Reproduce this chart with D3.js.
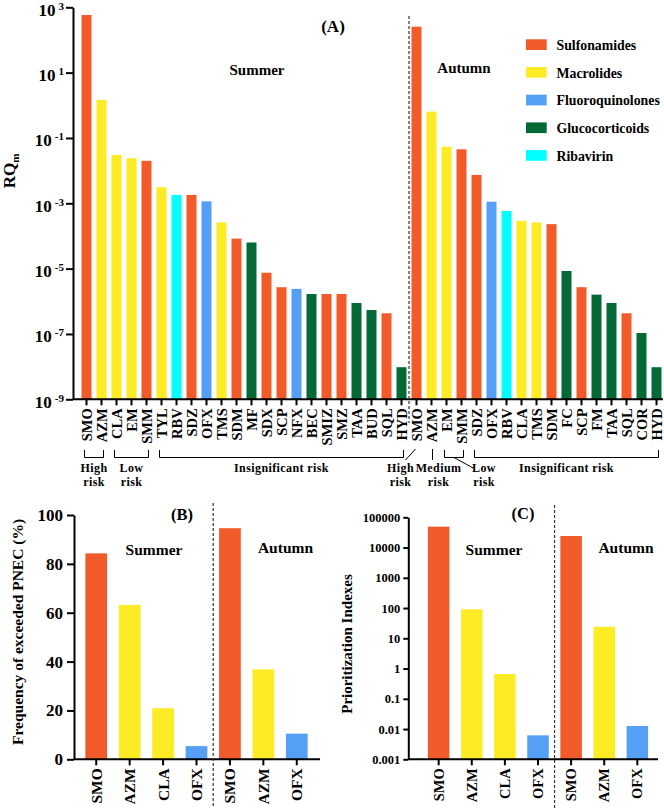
<!DOCTYPE html>
<meta charset="utf-8">
<style>
body { margin: 0; background: #fff; }
svg { display: block; }
text { font-family: "Liberation Serif", "Times New Roman", serif; font-weight: bold; fill: #000; }
.axis path, .axis line { stroke: #000; stroke-width: 2px; }
.sep { stroke: #333; stroke-width: 1.2px; stroke-dasharray: 3,2; }
.brk { stroke: #000; stroke-width: 1px; fill: none; }
</style>
<svg width="664" height="808"></svg>
<script src="https://cdn.jsdelivr.net/npm/d3@7"></script>
<script>

var classNames = ["Sulfonamides", "Macrolides", "Fluoroquinolones", "Glucocorticoids", "Ribavirin"];
var classColors = ["#f15a29", "#fdec25", "#559ff7", "#036a36", "#00ffff"];

// panel A, RQm per compound
var summerDrugs = ["SMO","AZM","CLA","EM","SMM","TYL","RBV","SDZ","OFX","TMS","SDM","MF","SDX","SCP","NFX","BEC","SMIZ","SMZ","TAA","BUD","SQL","HYD"];
var summerClass = [0,1,1,1,0,1,4,0,2,1,0,3,0,0,2,3,0,0,3,3,0,3];
var summerRQ = [580,1.46,0.030,0.024,0.020,0.0031,0.0018,0.0018,0.00115,0.00026,8.3e-5,6.3e-5,7.5e-6,2.7e-6,2.4e-6,1.67e-6,1.67e-6,1.67e-6,8.9e-7,5.4e-7,4.3e-7,9.6e-9];

var autumnDrugs = ["SMO","AZM","EM","SMM","SDZ","OFX","RBV","CLA","TMS","SDM","FC","SCP","FM","TAA","SQL","COR","HYD"];
var autumnClass = [0,1,1,0,0,2,4,1,1,0,3,0,3,3,0,3,3];
var autumnRQ = [255,0.64,0.054,0.045,0.0074,0.00112,0.00058,0.00029,0.00026,0.00023,8.5e-6,2.7e-6,1.6e-6,8.9e-7,4.3e-7,1.07e-7,9.6e-9];

var rqTicks = [1e3,1e1,1e-1,1e-3,1e-5,1e-7,1e-9];

// risk brackets: [first index, last index] within the season
var summerRisk = [{from:0, to:1, lines:["High","risk"]}, {from:2, to:4, lines:["Low","risk"]}, {from:5, to:21, lines:["Insignificant risk"]}];
var autumnRisk = [{from:2, to:3, lines:["Low","risk"]}, {from:4, to:16, lines:["Insignificant risk"]}];

// panels B and C
var bDrugs = ["SMO","AZM","CLA","OFX","SMO","AZM","OFX"];
var bClass = [0,1,1,2,0,1,2];
var bFreq = [84.3,63.2,20.9,5.4,94.6,36.8,10.5];
var cIndex = [49000,91,0.66,0.0062,24000,24,0.0126];
var freqTicks = [0,20,40,60,80,100];
var piTicks = [0.001,0.01,0.1,1,10,100,1000,10000,100000];

var svg = d3.select("svg");

// ---------- panel A ----------
var drugsA = summerDrugs.concat(autumnDrugs),
    classA = summerClass.concat(autumnClass),
    rqA = summerRQ.concat(autumnRQ),
    nS = summerDrugs.length;

var xA = d3.scaleBand().domain(d3.range(drugsA.length)).range([79, 664]).paddingInner(1/3).paddingOuter(1/6);
var yA = d3.scaleLog().domain([1e-9, 1e3]).range([399.3, 7.3]);
var bwA = xA.bandwidth();

svg.append("g").selectAll("rect")
  .data(rqA)
  .enter().append("rect")
    .attr("x", function(d, i) { return xA(i); })
    .attr("y", function(d) { return yA(d); })
    .attr("width", bwA)
    .attr("height", function(d) { return yA.range()[0] - yA(d); })
    .style("fill", function(d, i) { return classColors[classA[i]]; });

var axA = svg.append("g").attr("class", "axis")
    .attr("transform", "translate(0,399.3)")
    .call(d3.axisBottom(xA).tickSize(6).tickSizeOuter(0).tickFormat(function(i) { return drugsA[i]; }));
axA.select(".domain").remove();
axA.append("line").attr("x1", 73).attr("x2", 663);
axA.selectAll("text")
    .attr("transform", "rotate(-90)")
    .attr("x", -9).attr("y", 0).attr("dy", "0.35em")
    .style("text-anchor", "end")
    .style("font-size", "14.5px");

var ayA = svg.append("g").attr("class", "axis")
    .attr("transform", "translate(73,0)")
    .call(d3.axisLeft(yA).tickValues(rqTicks).tickSize(7).tickSizeOuter(0).tickFormat(""));
ayA.selectAll(".tick text").remove();
ayA.selectAll(".tick").each(function(d) {
  var t = d3.select(this).append("text")
      .attr("x", -9).attr("y", 2).attr("dy", "0.35em")
      .style("text-anchor", "end").style("font-size", "17px");
  t.append("tspan").text("10");
  t.append("tspan").attr("dx", 3).attr("dy", "-0.55em").style("font-size", "11px")
      .text(Math.round(Math.log10(d)));
});

svg.append("text")
    .attr("transform", "translate(15,171) rotate(-90)")
    .style("text-anchor", "middle").style("font-size", "17px")
  .call(function(t) {
    t.append("tspan").text("RQ");
    t.append("tspan").attr("dy", 4).style("font-size", "11px").text("m");
  });

var sepA = (xA(nS - 1) + bwA + xA(nS)) / 2;
svg.append("line").attr("class", "sep").attr("x1", sepA).attr("x2", sepA).attr("y1", 16).attr("y2", 423);

svg.append("text").attr("x", 333).attr("y", 32).style("text-anchor", "middle").style("font-size", "17px").text("(A)");
svg.append("text").attr("x", 257).attr("y", 75).style("text-anchor", "middle").style("font-size", "15px").text("Summer");
svg.append("text").attr("x", 464).attr("y", 73).style("text-anchor", "middle").style("font-size", "15px").text("Autumn");

// legend
var leg = svg.append("g").selectAll("g")
  .data(classNames)
  .enter().append("g")
    .attr("transform", function(d, i) { return "translate(526," + (39.3 + i * 27.7) + ")"; });
leg.append("rect").attr("width", 20.7).attr("height", 10.7)
    .style("fill", function(d, i) { return classColors[i]; });
leg.append("text").attr("x", 30.5).attr("y", 10.5).style("font-size", "13.8px").text(function(d) { return d; });

// risk brackets under the labels
function bracket(g, x1, x2, y0, y1) {
  g.append("path").attr("class", "brk")
    .attr("d", "M" + x1 + "," + y0 + "V" + y1 + "H" + x2 + "V" + y0);
}
function riskLabel(cx, lines) {
  lines.forEach(function(s, k) {
    svg.append("text").attr("x", cx).attr("y", 471.5 + k * 14)
        .style("text-anchor", "middle").style("font-size", "12px").style("letter-spacing", "0.4px")
        .text(s);
  });
}
var gB = svg.append("g");
summerRisk.concat(autumnRisk.map(function(r) { return {from: r.from + nS, to: r.to + nS, lines: r.lines}; }))
  .forEach(function(r, k) {
    var x1 = xA(r.from) + 3, x2 = xA(r.to) + bwA - 3;
    bracket(gB, x1, x2, 450, 457.5);
    if (r.lines[0] === "Low" && r.from >= nS) {
      var mx = (x1 + x2) / 2;
      gB.append("path").attr("class", "brk").attr("d", "M" + mx + ",457.5L" + (mx + 21) + ",469");
      riskLabel(mx + 30, r.lines);
    } else {
      riskLabel((x1 + x2) / 2, r.lines);
    }
  });
// autumn SMO (high) and AZM (medium) leaders
var cSmo = xA(nS) + bwA / 2, cAzm = xA(nS + 1) + bwA / 2;
gB.append("path").attr("class", "brk").attr("d", "M" + (cSmo - 11) + ",460L" + (cSmo - 1) + ",449");
riskLabel(cSmo - 16, ["High", "risk"]);
gB.append("path").attr("class", "brk").attr("d", "M" + (cAzm + 1) + ",449V460");
riskLabel(cAzm + 7, ["Medium", "risk"]);

// ---------- panel B ----------
var xB = d3.scaleBand().domain(d3.range(bDrugs.length)).range([73, 320]).paddingInner(0.35).paddingOuter(0.37);
var yB = d3.scaleLinear().domain([0, 100]).range([759.3, 515]);

svg.append("g").selectAll("rect")
  .data(bFreq)
  .enter().append("rect")
    .attr("x", function(d, i) { return xB(i); })
    .attr("y", function(d) { return yB(d); })
    .attr("width", xB.bandwidth())
    .attr("height", function(d) { return yB(0) - yB(d); })
    .style("fill", function(d, i) { return classColors[bClass[i]]; });

function bottomAxis(x, y0, left, right, fs) {
  var g = svg.append("g").attr("class", "axis")
      .attr("transform", "translate(0," + y0 + ")")
      .call(d3.axisBottom(x).tickSize(6).tickSizeOuter(0).tickFormat(function(i) { return bDrugs[i]; }));
  g.select(".domain").remove();
  g.append("line").attr("x1", left).attr("x2", right);
  g.selectAll("text")
      .attr("transform", "rotate(-90)")
      .attr("x", -9).attr("y", 0).attr("dy", "0.35em")
      .style("text-anchor", "end")
      .style("font-size", fs);
}
bottomAxis(xB, 759.3, 74, 320, "15.5px");

svg.append("g").attr("class", "axis")
    .attr("transform", "translate(74,0)")
    .call(d3.axisLeft(yB).tickValues(freqTicks).tickSize(7).tickSizeOuter(0).tickPadding(4))
  .selectAll("text").style("font-size", "17px");

svg.append("text")
    .attr("transform", "translate(23,632) rotate(-90)")
    .style("text-anchor", "middle").style("font-size", "15.5px")
    .text("Frequency of exceeded PNEC (%)");

var sepB = (xB(3) + xB.bandwidth() + xB(4)) / 2;
svg.append("line").attr("class", "sep").attr("x1", sepB).attr("x2", sepB).attr("y1", 503).attr("y2", 808);
svg.append("text").attr("x", 182).attr("y", 520).style("text-anchor", "middle").style("font-size", "16.5px").text("(B)");
svg.append("text").attr("x", 154).attr("y", 555).style("text-anchor", "middle").style("font-size", "15.5px").text("Summer");
svg.append("text").attr("x", 285.5).attr("y", 553).style("text-anchor", "middle").style("font-size", "15.5px").text("Autumn");

// ---------- panel C ----------
var xC = d3.scaleBand().domain(d3.range(bDrugs.length)).range([413, 663]).paddingInner(0.35).paddingOuter(0.45);
var yC = d3.scaleLog().domain([0.001, 100000]).range([759.3, 517.3]);

svg.append("g").selectAll("rect")
  .data(cIndex)
  .enter().append("rect")
    .attr("x", function(d, i) { return xC(i); })
    .attr("y", function(d) { return yC(d); })
    .attr("width", xC.bandwidth())
    .attr("height", function(d) { return yC.range()[0] - yC(d); })
    .style("fill", function(d, i) { return classColors[bClass[i]]; });

bottomAxis(xC, 759.3, 408.3, 658, "14.5px");

svg.append("g").attr("class", "axis")
    .attr("transform", "translate(408.3,0)")
    .call(d3.axisLeft(yC).tickValues(piTicks).tickSize(5).tickSizeOuter(0).tickPadding(3)
      .tickFormat(function(d) { return d < 1 ? String(+d.toPrecision(1)) : d3.format("d")(d); }))
  .selectAll("text").style("font-size", "12.5px");

svg.append("text")
    .attr("transform", "translate(352,644) rotate(-90)")
    .style("text-anchor", "middle").style("font-size", "15px")
    .text("Prioritization Indexes");

var sepC = (xC(3) + xC.bandwidth() + xC(4)) / 2;
svg.append("line").attr("class", "sep").attr("x1", sepC).attr("x2", sepC).attr("y1", 505).attr("y2", 808);
svg.append("text").attr("x", 523).attr("y", 519).style("text-anchor", "middle").style("font-size", "16.5px").text("(C)");
svg.append("text").attr("x", 494).attr("y", 555).style("text-anchor", "middle").style("font-size", "15.5px").text("Summer");
svg.append("text").attr("x", 626).attr("y", 553).style("text-anchor", "middle").style("font-size", "15.5px").text("Autumn");

</script>
